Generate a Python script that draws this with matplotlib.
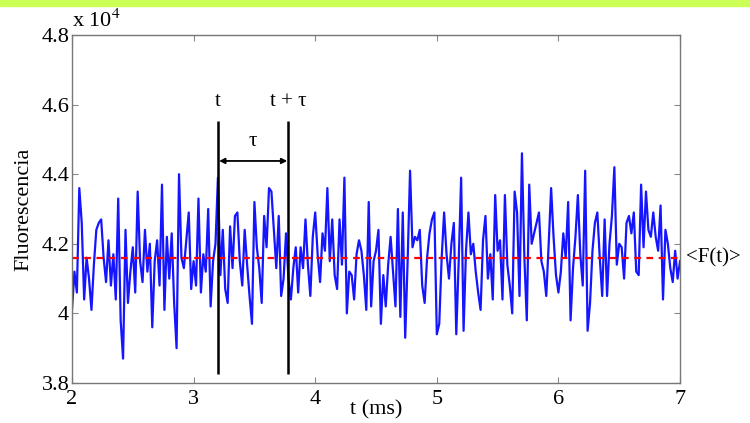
import numpy as np
import matplotlib
matplotlib.use("Agg")
import matplotlib.pyplot as plt
from matplotlib.patches import Rectangle

# ---------------- Data ----------------
# fluorescence trace, one sample every 0.02 ms from 2 to 7 ms
FLUOR = [
    40100, 41200, 40600, 43600, 42600, 40400, 41600, 41000, 40100, 41400,
    42400, 42600, 42700, 41600, 40900, 42100, 40800, 41700, 40400, 43300,
    39800, 38700, 42400, 40300, 41200, 41900, 40600, 43500, 41500, 40900,
    42400, 41200, 42000, 39600, 41500, 42100, 40800, 43700, 40100, 42200,
    41000, 42300, 40300, 39000, 44000,
    41600, 41300, 42100, 42900, 40700, 41500, 40800, 43300, 40600, 41700,
    41200, 43000, 40200, 41500, 42000, 43900, 41100, 42400, 40700, 40300,
    42500, 41300, 42800, 42900, 41500, 40800, 42400, 41400, 40500, 39700,
    43200, 41900, 41300, 40300, 42800, 41900, 43600, 43500, 42400, 41300,
    42800, 40500,
    41000, 42300, 41000, 40400, 41300, 41900, 40600, 41900, 41300, 42700,
    41400, 40500, 42200, 42900, 41700, 40900, 42300, 41800, 43600, 41500,
    42700, 41100, 40700, 42700, 41400, 43900, 40000, 41200, 41100, 40400,
    41700, 42100, 41800, 41100, 40100, 43200, 40200, 41500, 41800, 42400,
    39700, 41100,
    40200, 41400, 42200, 41200, 40200, 43000, 39900, 42900, 39300, 41500,
    44100, 41900, 42200, 42100, 42400, 40800, 40300, 41600, 42300, 42700,
    42900, 39400, 39700, 41600, 42900, 41700, 41000, 42000, 42600, 39400,
    41500, 43900, 39500, 41800, 42900, 41700, 42000, 41200, 40600, 40100,
    42100,
    42800, 41000, 41700, 40400, 43400, 41800, 42100, 40400, 43400, 41400,
    40800, 40000, 43500, 42900, 40500, 44600, 41600, 39800, 43700, 42000,
    42300, 42600, 42900, 41500, 41200, 40500, 42000, 43600, 42200, 41100,
    40600, 41200, 42300, 41600, 43200, 39800, 41300, 42200,
    43400, 41700, 40800, 44100, 39500, 40300, 41800, 42600, 42900, 41600,
    40500, 42700, 40500, 42000, 42800, 44200, 41400, 42000, 41900, 41000,
    42600, 42800, 42300, 42900, 41200, 41100, 43700, 41900, 43500, 42400,
    42200, 42900, 42200, 41800, 43100, 40400, 42400, 42000, 41300, 40900,
    41800, 41000, 41500,
]
T_START, T_END = 2, 7
MEAN_F = 41600          # <F(t)>
T_MARK = 3.2            # t
T_TAU = 3.78            # t + tau

XTICKS = [2, 3, 4, 5, 6, 7]
YTICKS = [38000, 40000, 42000, 44000, 46000, 48000]
YTICK_LABELS = ["3.8", "4", "4.2", "4.4", "4.6", "4.8"]

# ---------------- Plot ----------------
plt.rcParams["font.family"] = ["Liberation Serif", "DejaVu Serif"]
plt.rcParams["mathtext.fontset"] = "stix"

fig = plt.figure(figsize=(7.5, 4.23), dpi=100)
fig.patches.append(Rectangle((0, 1 - 6 / 423), 1, 6 / 423, transform=fig.transFigure,
                             color="#ccff55", zorder=0))
ax = fig.add_axes([0.096, 0.0946, 0.8107, 0.8227])

t = np.linspace(T_START, T_END, len(FLUOR))
ax.plot(t, FLUOR, color="#1515ff", lw=1.6)
ax.axhline(MEAN_F, color="#ff0000", ls=(0, (3, 2.5)), lw=1.6)

# t and t + tau markers
ax.vlines([T_MARK, T_TAU], 38260, 45530, color="black", lw=1.8)
ax.annotate("", xy=(T_MARK + 0.01, 44380), xytext=(T_TAU - 0.01, 44380),
            arrowprops=dict(arrowstyle="<|-|>", color="black", lw=1.3,
                            mutation_scale=8, shrinkA=0, shrinkB=0))
ax.text(T_MARK, 46100, "t", ha="center", va="center", fontsize=15)
ax.text(T_TAU, 46100, "t + τ", ha="center", va="center", fontsize=15)
ax.text((T_MARK + T_TAU) / 2, 44950, "τ", ha="center", va="center", fontsize=15)
ax.text(7.05, MEAN_F, "<F(t)>", ha="left", va="center", fontsize=15, clip_on=False)

ax.set_xlim(T_START, T_END)
ax.set_ylim(38000, 48000)
ax.set_xticks(XTICKS)
ax.set_yticks(YTICKS)
ax.set_yticklabels(YTICK_LABELS)
ax.tick_params(direction="in", top=True, right=True, length=4, width=0.8,
               color="#888888", labelsize=16)
ax.tick_params(axis="x", pad=5)
ax.tick_params(axis="y", pad=2)
for s in ax.spines.values():
    s.set_color("#777777")
    s.set_linewidth(1.0)

ax.set_xlabel("t (ms)", fontsize=16, labelpad=-6)
ax.set_ylabel("Fluorescencia", fontsize=16, labelpad=6)
ax.text(0.0, 1.01, r"x 10$^4$", transform=ax.transAxes, ha="left", va="bottom",
        fontsize=16)

fig.savefig("out.png", dpi=100)
